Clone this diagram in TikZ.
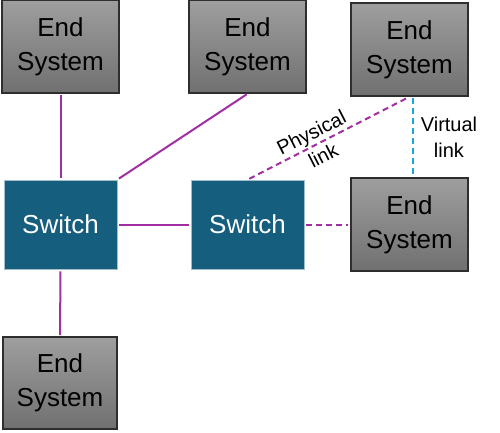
\documentclass[tikz,border=0pt]{standalone}
\usepackage{fontspec}
\setmainfont{Liberation Sans}
\usepackage{xcolor}
\definecolor{swblue}{HTML}{155E7E}
\definecolor{linkpurple}{HTML}{A12EA3}
\definecolor{vlblue}{HTML}{1EA5DE}
\definecolor{esedge}{HTML}{2E2E2E}

\begin{document}
\begin{tikzpicture}[x=1pt,y=-1pt,
        endsys/.style={draw=esedge,line width=1.6pt,top color=black!38,bottom color=black!56,
            minimum width=117pt,minimum height=93pt,align=center,inner sep=0pt,
            font=\fontsize{26}{34}\selectfont},
        switchbox/.style={fill=swblue,draw=swblue!40,line width=0.6pt,text=white,
            minimum width=113pt,minimum height=89pt,inner sep=0pt,font=\fontsize{26}{30}\selectfont},
        plink/.style={linkpurple,line width=2pt},
        dlink/.style={linkpurple,line width=2pt,dash pattern=on 6pt off 4pt},
        vlink/.style={vlblue,line width=2pt,dash pattern=on 6pt off 4pt},
        lbl/.style={text=black,align=center,font=\fontsize{20}{26}\selectfont}]
        \useasboundingbox (0,0) rectangle (500,433);
        \node[endsys] (es1) at (60.5,46.5) {End\\System};
        \node[endsys] (es2) at (247.5,46.5) {End\\System};
        \node[endsys] (es3) at (409.5,49.5) {End\\System};
        \node[endsys] (es4) at (409.5,224.5) {End\\System};
        \node[endsys,minimum width=114pt,minimum height=92pt] (es5) at (60,383) {End\\System};
        \node[switchbox] (sw1) at (60.5,224.5) {Switch};
        \node[switchbox] (sw2) at (247.5,224.5) {Switch};
        % physical links
        \draw[plink,shorten <=1pt,shorten >=2pt] (es1.south) -- (sw1.north);
        \draw[plink,shorten <=1pt,shorten >=2pt] (es2.south) -- (sw1.north east);
        \draw[plink,shorten <=2pt,shorten >=2pt] (sw1.east) -- (sw2.west);
        \draw[plink,shorten <=2pt,shorten >=1pt] (sw1.south) -- (es5.north);
        \draw[dlink,shorten <=2pt,shorten >=1pt] (sw2.north) -- (es3.south)
            node[lbl,pos=0.43,sloped] {Physical\\link};
        \draw[dlink,shorten <=2pt,shorten >=2pt] (sw2.east) -- (es4.west);
        % virtual link
        \coordinate (vtop) at ([xshift=3pt]es3.south);
        \coordinate (vbot) at ([xshift=3pt]es4.north);
        \draw[vlink,shorten <=1pt,shorten >=2pt] (vtop) -- (vbot)
            node[lbl,midway,right=4pt] {Virtual\\link};
\end{tikzpicture}
\end{document}
